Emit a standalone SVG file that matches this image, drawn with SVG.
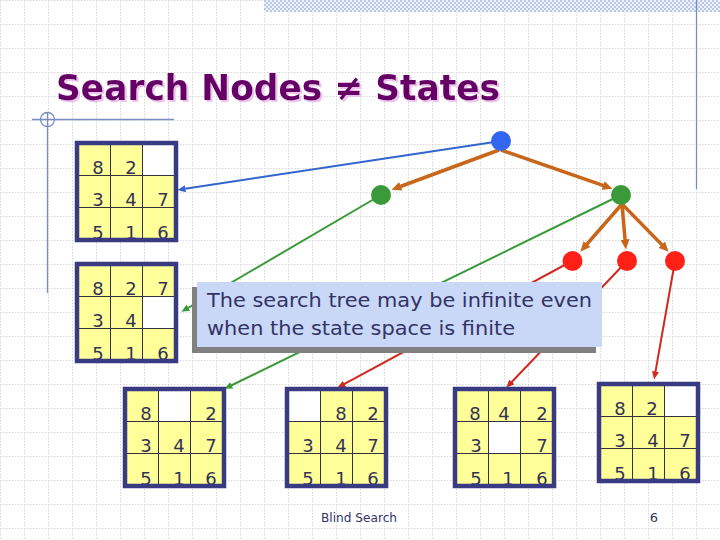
<svg xmlns="http://www.w3.org/2000/svg" width="720" height="540" viewBox="0 0 720 540">
<defs>
<pattern id="grid" patternUnits="userSpaceOnUse" width="24" height="24">
<path d="M0,0.5H24M0.5,0V24" stroke="#d6d6d6" stroke-width="1" stroke-dasharray="1.5 1.5" fill="none"/>
</pattern>
<pattern id="hatch" patternUnits="userSpaceOnUse" width="4" height="4">
<rect width="4" height="4" fill="#eef2fa"/>
<rect width="2" height="2" fill="#b9c8e6"/>
<rect x="2" y="2" width="2" height="2" fill="#b9c8e6"/>
</pattern>
<filter id="tshadow" x="-5%" y="-20%" width="110%" height="150%">
<feOffset in="SourceAlpha" dx="2" dy="2" result="off"/>
<feFlood flood-color="#ecc4ec"/>
<feComposite in2="off" operator="in" result="sh"/>
<feMerge><feMergeNode in="sh"/><feMergeNode in="SourceGraphic"/></feMerge>
</filter>
<marker id="ah-o" viewBox="0 0 10 9" refX="0.5" refY="4.5" markerWidth="10" markerHeight="9" markerUnits="userSpaceOnUse" orient="auto"><path d="M0,0L10,4.5L0,9z" fill="#c8661a"/></marker>
<marker id="ah-b" viewBox="0 0 8 7" refX="0.5" refY="3.5" markerWidth="8" markerHeight="7" markerUnits="userSpaceOnUse" orient="auto"><path d="M0,0L8,3.5L0,7z" fill="#3366cc"/></marker>
<marker id="ah-g" viewBox="0 0 8 7" refX="0.5" refY="3.5" markerWidth="8" markerHeight="7" markerUnits="userSpaceOnUse" orient="auto"><path d="M0,0L8,3.5L0,7z" fill="#3a9a3a"/></marker>
<marker id="ah-r" viewBox="0 0 8 7" refX="0.5" refY="3.5" markerWidth="8" markerHeight="7" markerUnits="userSpaceOnUse" orient="auto"><path d="M0,0L8,3.5L0,7z" fill="#d02a20"/></marker>
</defs>
<style>
.frame{fill:none;stroke:#3a3a82;stroke-width:4.5}
.cells{fill:#ffff99}
.blank{fill:#ffffff}
.gl{stroke:#333340;stroke-width:1;fill:none}
.d{font-family:"DejaVu Sans","Liberation Sans",sans-serif;font-size:18px;fill:#333355;text-anchor:middle}
.eo{stroke:#c8661a;stroke-width:3.5;fill:none;marker-end:url(#ah-o)}
.eb{stroke:#3366cc;stroke-width:2;fill:none;marker-end:url(#ah-b)}
.eg{stroke:#3a9a3a;stroke-width:2;fill:none;marker-end:url(#ah-g)}
.er{stroke:#d02a20;stroke-width:2;fill:none;marker-end:url(#ah-r)}
.deco{stroke:#7a8cc0;stroke-width:1.3;fill:none}
.small{font-family:"DejaVu Sans","Liberation Sans",sans-serif;font-size:13px;fill:#333366}
</style>
<rect width="720" height="540" fill="#ffffff"/>
<rect width="720" height="540" fill="url(#grid)"/>
<rect x="264" y="0" width="456" height="12" fill="url(#hatch)"/>
<path class="deco" d="M696.5,0V189"/>
<g id="title-deco">
<path class="deco" d="M32,119.5H174M47.5,112V293"/>
<circle class="deco" cx="47.5" cy="119.5" r="7"/>
</g>
<g id="title">
<text x="56" y="100" filter="url(#tshadow)" font-family="'DejaVu Sans','Liberation Sans',sans-serif" font-weight="bold" font-size="36" fill="#660066" textLength="444" lengthAdjust="spacingAndGlyphs">Search Nodes ≠ States</text>
</g>
<g id="connectors">
<path class="eo" d="M499,150L400.4,186.5"/>
<path class="eo" d="M501,150L603.6,185.7"/>
<path class="eo" d="M622,204L586.6,244.5"/>
<path class="eo" d="M622,204L625.1,240"/>
<path class="eo" d="M622,204L662,244.9"/>
<path class="eb" d="M501,141L184.9,188.8"/>
<path class="eg" d="M381,195L187.9,308"/>
<path class="eg" d="M621,195L231.2,385.5"/>
<path class="er" d="M572,261L344,384.2"/>
<path class="er" d="M627,261L511.5,382.2"/>
<path class="er" d="M675,261L655.4,372.1"/>
</g>
<g id="node-root"><circle cx="501" cy="141" r="10" fill="#3366f0"/></g>
<g id="node-g1"><circle cx="381" cy="195" r="10" fill="#3a9a3a"/></g>
<g id="node-g2"><circle cx="621" cy="195" r="10" fill="#3a9a3a"/></g>
<g id="node-r1"><circle cx="572.5" cy="261" r="10" fill="#ff2018"/></g>
<g id="node-r2"><circle cx="627" cy="261" r="10" fill="#ff2018"/></g>
<g id="node-r3"><circle cx="675" cy="261" r="10" fill="#ff2018"/></g>

<g id="puzzle1" transform="translate(75,141)">
<rect class="cells" x="2" y="2" width="99" height="97"/>
<rect class="blank" x="67.5" y="2" width="31.5" height="32.5"/>
<path class="gl" d="M35.5,4V97M67.5,4V97M4,34.5H99M4,66.5H99"/>
<text class="d" x="23" y="32.5">8</text><text class="d" x="56" y="32.5">2</text>
<text class="d" x="23" y="65">3</text><text class="d" x="56" y="65">4</text><text class="d" x="88" y="65">7</text>
<text class="d" x="23" y="98">5</text><text class="d" x="56" y="98">1</text><text class="d" x="88" y="98">6</text>
<rect class="frame" x="2" y="2" width="99" height="97"/>
</g>
<g id="puzzle2" transform="translate(75,262)">
<rect class="cells" x="2" y="2" width="99" height="97"/>
<rect class="blank" x="67.5" y="34.5" width="31.5" height="32"/>
<path class="gl" d="M35.5,4V97M67.5,4V97M4,34.5H99M4,66.5H99"/>
<text class="d" x="23" y="32.5">8</text><text class="d" x="56" y="32.5">2</text><text class="d" x="88" y="32.5">7</text>
<text class="d" x="23" y="65">3</text><text class="d" x="56" y="65">4</text>
<text class="d" x="23" y="98">5</text><text class="d" x="56" y="98">1</text><text class="d" x="88" y="98">6</text>
<rect class="frame" x="2" y="2" width="99" height="97"/>
</g>
<g id="puzzle3" transform="translate(123,387)">
<rect class="cells" x="2" y="2" width="99" height="97"/>
<rect class="blank" x="35.5" y="2" width="32" height="32.5"/>
<path class="gl" d="M35.5,4V97M67.5,4V97M4,34.5H99M4,66.5H99"/>
<text class="d" x="23" y="32.5">8</text><text class="d" x="88" y="32.5">2</text>
<text class="d" x="23" y="65">3</text><text class="d" x="56" y="65">4</text><text class="d" x="88" y="65">7</text>
<text class="d" x="23" y="98">5</text><text class="d" x="56" y="98">1</text><text class="d" x="88" y="98">6</text>
<rect class="frame" x="2" y="2" width="99" height="97"/>
</g>
<g id="puzzle4" transform="translate(285,387)">
<rect class="cells" x="2" y="2" width="99" height="97"/>
<rect class="blank" x="2" y="2" width="33.5" height="32.5"/>
<path class="gl" d="M35.5,4V97M67.5,4V97M4,34.5H99M4,66.5H99"/>
<text class="d" x="56" y="32.5">8</text><text class="d" x="88" y="32.5">2</text>
<text class="d" x="23" y="65">3</text><text class="d" x="56" y="65">4</text><text class="d" x="88" y="65">7</text>
<text class="d" x="23" y="98">5</text><text class="d" x="56" y="98">1</text><text class="d" x="88" y="98">6</text>
<rect class="frame" x="2" y="2" width="99" height="97"/>
</g>
<g id="puzzle5" transform="translate(453,387)">
<rect class="cells" x="2" y="2" width="99" height="97"/>
<rect class="blank" x="35.5" y="34.5" width="32" height="32"/>
<path class="gl" d="M35.5,4V97M67.5,4V97M4,34.5H99M4,66.5H99"/>
<text class="d" x="22" y="32.5">8</text><text class="d" x="51" y="32.5">4</text><text class="d" x="89" y="32.5">2</text>
<text class="d" x="23" y="65">3</text><text class="d" x="89" y="65">7</text>
<text class="d" x="23" y="98">5</text><text class="d" x="55" y="98">1</text><text class="d" x="89" y="98">6</text>
<rect class="frame" x="2" y="2" width="99" height="97"/>
</g>
<g id="puzzle6" transform="translate(597,382)">
<rect class="cells" x="2" y="2" width="99" height="97"/>
<rect class="blank" x="67.5" y="2" width="31.5" height="32.5"/>
<path class="gl" d="M35.5,4V97M67.5,4V97M4,34.5H99M4,66.5H99"/>
<text class="d" x="23" y="32.5">8</text><text class="d" x="55" y="32.5">2</text>
<text class="d" x="23" y="65">3</text><text class="d" x="56" y="65">4</text><text class="d" x="88" y="65">7</text>
<text class="d" x="23" y="98">5</text><text class="d" x="56" y="98">1</text><text class="d" x="88" y="98">6</text>
<rect class="frame" x="2" y="2" width="99" height="97"/>
</g>

<g id="callout">
<rect x="192" y="287" width="404" height="66" fill="#808080"/>
<rect x="197" y="282" width="405" height="65" fill="#c9d8f6"/>
<text x="207" y="306.5" font-family="'DejaVu Sans','Liberation Sans',sans-serif" font-size="20" fill="#333366" textLength="385" lengthAdjust="spacingAndGlyphs">The search tree may be infinite even</text>
<text x="207" y="335" font-family="'DejaVu Sans','Liberation Sans',sans-serif" font-size="20" fill="#333366" textLength="308" lengthAdjust="spacingAndGlyphs">when the state space is finite</text>
</g>
<g id="footer">
<text class="small" x="321" y="521.5" textLength="76" lengthAdjust="spacingAndGlyphs">Blind Search</text>
<text class="small" x="654" y="521.5" text-anchor="middle">6</text>
</g>
</svg>
